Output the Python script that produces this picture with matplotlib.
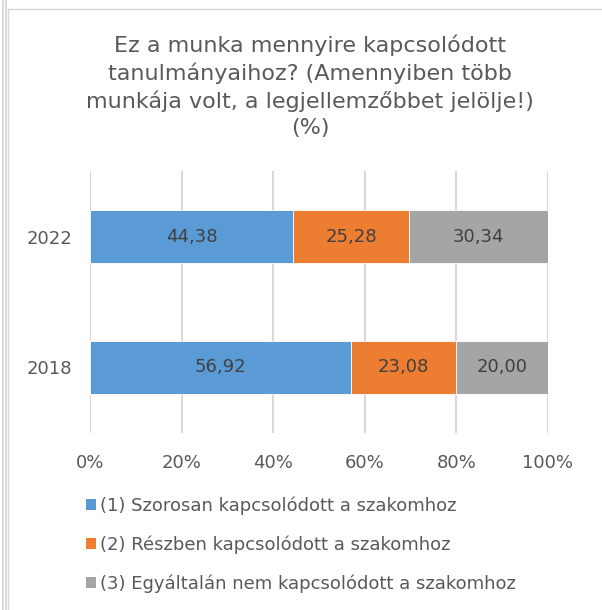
import numpy as np
import matplotlib
matplotlib.use('Agg')
import matplotlib.pyplot as plt
from matplotlib.lines import Line2D
from matplotlib.patches import Patch

# Chart data
years = ['2018', '2022']
series_names = ['(1) Szorosan kapcsolódott a szakomhoz',
                '(2) Részben kapcsolódott a szakomhoz',
                '(3) Egyáltalán nem kapcsolódott a szakomhoz']
closely = [56.92, 44.38]
partly = [23.08, 25.28]
not_at_all = [20.00, 30.34]
colors = ['#5B9BD5', '#ED7D31', '#A5A5A5']
x_ticks = [0, 20, 40, 60, 80, 100]
x_ticklabels = ['0%', '20%', '40%', '60%', '80%', '100%']
title = ('Ez a munka mennyire kapcsolódott\ntanulmányaihoz? (Amennyiben több\n'
         'munkája volt, a legjellemzőbbet jelölje!)\n(%)')

W, H = 602, 610
fig = plt.figure(figsize=(W / 100, H / 100), dpi=100)
txt = '#595959'

# frame lines like the Excel screenshot
fig.add_artist(Line2D([2.5 / W, 2.5 / W], [0, 1], color='#d4d4d4', lw=1.2))
fig.add_artist(Line2D([5.5 / W, 5.5 / W], [0, 1], color='#d4d4d4', lw=1.2))
fig.add_artist(Line2D([8 / W, 8 / W], [0, 1 - 9 / H], color='#d9d9d9', lw=1))
fig.add_artist(Line2D([8 / W, 1], [1 - 9 / H, 1 - 9 / H], color='#d9d9d9', lw=1))

ax = fig.add_axes([90 / W, 1 - 433 / H, (548 - 90) / W, (433 - 171) / H])

y = np.arange(len(years))
vals = [closely, partly, not_at_all]
totals = np.array([sum(t) for t in zip(*vals)])
left = np.zeros(len(years))
for name, v, c in zip(series_names, vals, colors):
    v = np.array(v)
    pct = v / totals * 100
    ax.barh(y, pct, left=left, height=0.4, color=c, edgecolor='white', linewidth=0.6, label=name, zorder=3)
    for yi, l, p, raw in zip(y, left, pct, v):
        ax.text(l + p / 2, yi, f'{raw:.2f}'.replace('.', ','), ha='center', va='center',
                fontsize=13, color='#404040', zorder=4)
    left = left + pct

ax.set_xlim(0, 100)
ax.set_ylim(-0.5, 1.5)
ax.set_yticks(y)
ax.set_yticklabels(years)
ax.set_xticks(x_ticks)
ax.set_xticklabels(x_ticklabels)
ax.tick_params(axis='x', length=0, pad=15, labelsize=13, labelcolor=txt)
ax.tick_params(axis='y', length=0, pad=13, labelsize=13, labelcolor=txt)
ax.grid(axis='x', color='#d9d9d9', lw=1.5, zorder=0)
for s in ax.spines.values():
    s.set_visible(False)

fig.text(310 / W, 1 - 35 / H, title, ha='center', va='top', fontsize=16, color=txt, linespacing=1.36)

handles = [Patch(facecolor=c, edgecolor='none') for c in colors]
fig.legend(handles, series_names, loc='upper left', bbox_to_anchor=(77 / W, 1 - 487 / H),
           frameon=False, fontsize=13, labelcolor=txt, handlelength=0.55, handleheight=0.55,
           handletextpad=0.2, labelspacing=1.15, borderpad=0)

fig.savefig('out.png', dpi=100, facecolor='white')
